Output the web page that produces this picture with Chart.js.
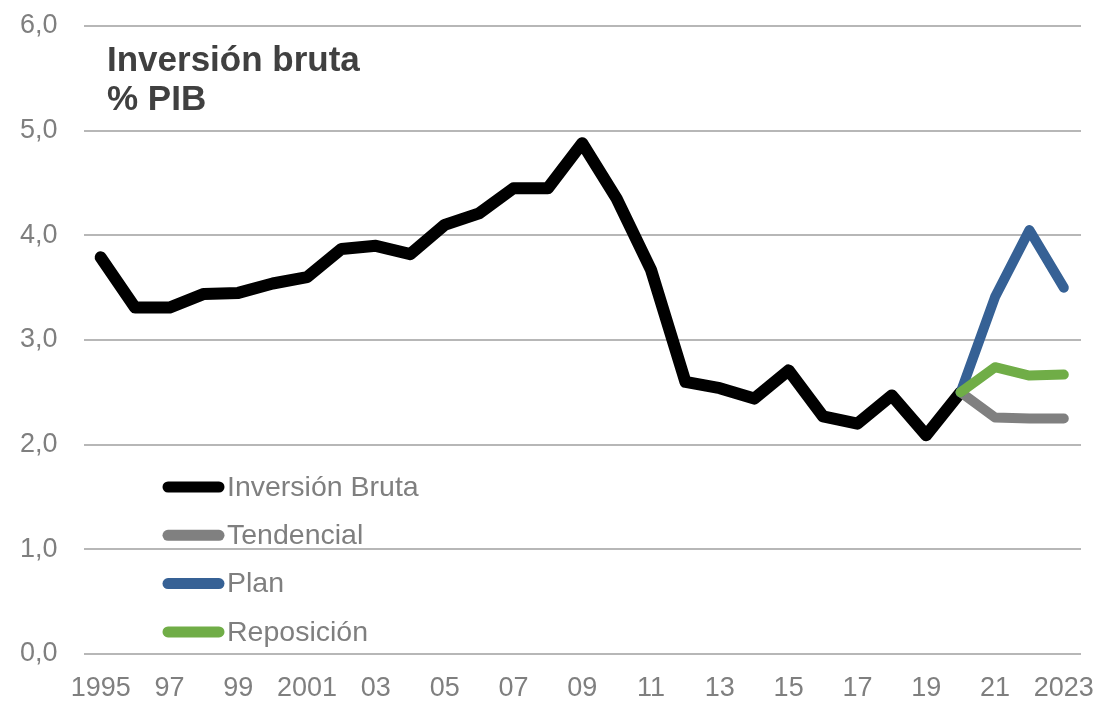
<!DOCTYPE html>
<html>
<head>
<meta charset="utf-8">
<script src="https://cdn.jsdelivr.net/npm/chart.js@4/dist/chart.umd.min.js"></script>
<style>
    html, body { margin: 0; padding: 0; background: #fff; }
    #wrap { width: 1101px; height: 702px; }
</style>
</head>
<body>
<div id="wrap"><canvas id="chart" width="1101" height="702"></canvas></div>
<script>
const years = [
    '1995', '1996', '1997', '1998', '1999', '2000', '2001', '2002', '2003', '2004',
    '2005', '2006', '2007', '2008', '2009', '2010', '2011', '2012', '2013', '2014',
    '2015', '2016', '2017', '2018', '2019', '2020', '2021', '2022', '2023'
];
const tickLabels = [
    '1995', '', '97', '', '99', '', '2001', '', '03', '',
    '05', '', '07', '', '09', '', '11', '', '13', '',
    '15', '', '17', '', '19', '', '21', '', '2023'
];
const inversionBruta = [
    3.79, 3.31, 3.31, 3.44, 3.45, 3.54, 3.60, 3.87, 3.90, 3.82,
    4.10, 4.21, 4.45, 4.45, 4.88, 4.35, 3.67, 2.60, 2.54, 2.44,
    2.71, 2.27, 2.20, 2.47, 2.09, 2.50, null, null, null
];
const pad = (vals) => Array(25).fill(null).concat(vals);
const tendencial = pad([2.50, 2.26, 2.25, 2.25]);
const plan = pad([2.50, 3.41, 4.05, 3.50]);
const reposicion = pad([2.50, 2.74, 2.66, 2.67]);

const titleLines = ['Inversión bruta', '% PIB'];

const FONT = "'Liberation Sans', Arial, sans-serif";
const GREY_TEXT = '#7f7f7f';

// title + legend drawn inside the plot area
const overlay = {
    id: 'overlay',
    afterDraw(chart, args, opts) {
        const ctx = chart.ctx;
        ctx.save();
        ctx.fillStyle = '#404040';
        ctx.font = 'bold 35px ' + FONT;
        ctx.textBaseline = 'alphabetic';
        ctx.textAlign = 'left';
        titleLines.forEach((t, i) => ctx.fillText(t, opts.titleX, opts.titleY + i * opts.titleGap));

        ctx.font = '28.5px ' + FONT;
        ctx.textBaseline = 'middle';
        chart.data.datasets.forEach((ds, i) => {
            const y = opts.legendY + i * opts.legendGap;
            ctx.strokeStyle = ds.borderColor;
            ctx.lineWidth = 11;
            ctx.lineCap = 'round';
            ctx.beginPath();
            ctx.moveTo(opts.legendX, y);
            ctx.lineTo(opts.legendX + 51, y);
            ctx.stroke();
            ctx.fillStyle = GREY_TEXT;
            ctx.fillText(ds.label, opts.legendX + 59, y + 1);
        });
        ctx.restore();
    }
};

const lineStyle = (color, width, order) => ({
    borderColor: color,
    backgroundColor: color,
    borderWidth: width,
    borderCapStyle: 'round',
    borderJoinStyle: 'round',
    pointRadius: 0,
    fill: false,
    tension: 0,
    spanGaps: false,
    order: order
});

new Chart(document.getElementById('chart'), {
    type: 'line',
    data: {
        labels: years,
        datasets: [
            { label: 'Inversión Bruta', data: inversionBruta, ...lineStyle('#000000', 12, 4) },
            { label: 'Tendencial', data: tendencial, ...lineStyle('#808080', 10, 3) },
            { label: 'Plan', data: plan, ...lineStyle('#366195', 10, 2) },
            { label: 'Reposición', data: reposicion, ...lineStyle('#70ad47', 10, 1) }
        ]
    },
    options: {
        responsive: false,
        animation: false,
        layout: { padding: { top: 26, right: 20, bottom: 0, left: 0 } },
        plugins: {
            legend: { display: false },
            tooltip: { enabled: false },
            overlay: {
                titleX: 107, titleY: 71, titleGap: 39,
                legendX: 168, legendY: 487, legendGap: 48.3
            }
        },
        scales: {
            x: {
                offset: true,
                grid: { display: false, drawTicks: false },
                border: { display: false },
                ticks: {
                    autoSkip: false,
                    maxRotation: 0,
                    padding: 18,
                    color: GREY_TEXT,
                    font: { family: FONT, size: 27 },
                    callback: (v, i) => tickLabels[i]
                },
                afterFit: (s) => { s.height = 48; s.paddingLeft = 0; s.paddingRight = 0; }
            },
            y: {
                min: 0,
                max: 6,
                ticks: {
                    stepSize: 1,
                    padding: 26,
                    color: GREY_TEXT,
                    font: { family: FONT, size: 27 },
                    callback: (v) => v.toFixed(1).replace('.', ',')
                },
                grid: { color: '#b7b7b7', lineWidth: 2, drawTicks: false },
                border: { display: false },
                afterFit: (s) => { s.width = 83.5; s.paddingTop = 0; s.paddingBottom = 0; }
            }
        }
    },
    plugins: [overlay]
});
</script>
</body>
</html>
